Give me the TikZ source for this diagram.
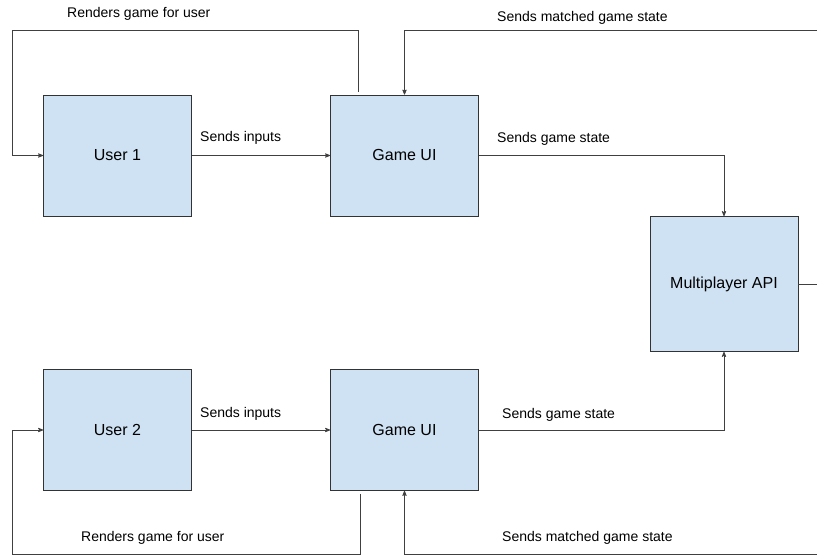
\documentclass[tikz,border=0pt]{standalone}
\usepackage{fontspec}
\setmainfont{Liberation Sans}
\usetikzlibrary{arrows,positioning}
\definecolor{boxblue}{HTML}{CFE2F3}

\begin{document}
\begin{tikzpicture}[->,>=stealth',x=1pt,y=1pt,node distance=287pt,
  box node/.style={rectangle,fill=boxblue,draw=black!80,line width=0.8pt,
  font=\fontsize{16}{19}\selectfont,minimum width=148pt,minimum height=121pt},
  label node/.style={anchor=base west,inner sep=0pt,
  font=\fontsize{14}{17}\selectfont},
  link/.style={draw=black!75,line width=0.8pt}]

  \useasboundingbox (0,0) rectangle (817,556);

  \node[box node] (u1) at (117.5,400.5) {User 1};
  \node[box node] (gui1) [right of=u1] {Game UI};
  \node[box node] (u2) [node distance=274.5pt, below of=u1] {User 2};
  \node[box node] (gui2) [right of=u2] {Game UI};
  \node[box node, minimum height=135pt] (api) at (724,272) {Multiplayer API};

  % loose ends running off the right side
  \coordinate (top edge) at (817,526);
  \coordinate (api out) at (817,272);
  \coordinate (bottom edge) at (817,2);
  \coordinate (top left) at (12.5,526);
  \coordinate (bottom left) at (12.5,2);

  % player one
  \draw[link] ([xshift=-46pt,yshift=3pt]gui1.north) |- (top left) |- (u1);
  \draw[link] (top edge) -| (gui1);
  \draw[link] (u1) -- (gui1);
  \draw[link] (gui1) -| (api);

  % player two
  \draw[link] (u2) -- (gui2);
  \draw[link] (gui2) -| (api);
  \draw[link] ([xshift=-44.5pt,yshift=-3pt]gui2.south) |- (bottom left) |- (u2);
  \draw[link] (bottom edge) -| (gui2);

  \draw[link,-] (api) -- (api out);

  \node[label node] (render1) at (67,538) {Renders game for user};
  \node[label node] (match1) at (497,534) {Sends matched game state};
  \node[label node] (input1) at (200,414.5) {Sends inputs};
  \node[label node] (state1) at (497,413.5) {Sends game state};
  \node[label node] (input2) at (200,138.5) {Sends inputs};
  \node[label node] (state2) at (502,137) {Sends game state};
  \node[label node] (render2) at (81,14) {Renders game for user};
  \node[label node] (match2) at (502,14) {Sends matched game state};

\end{tikzpicture}
\end{document}
